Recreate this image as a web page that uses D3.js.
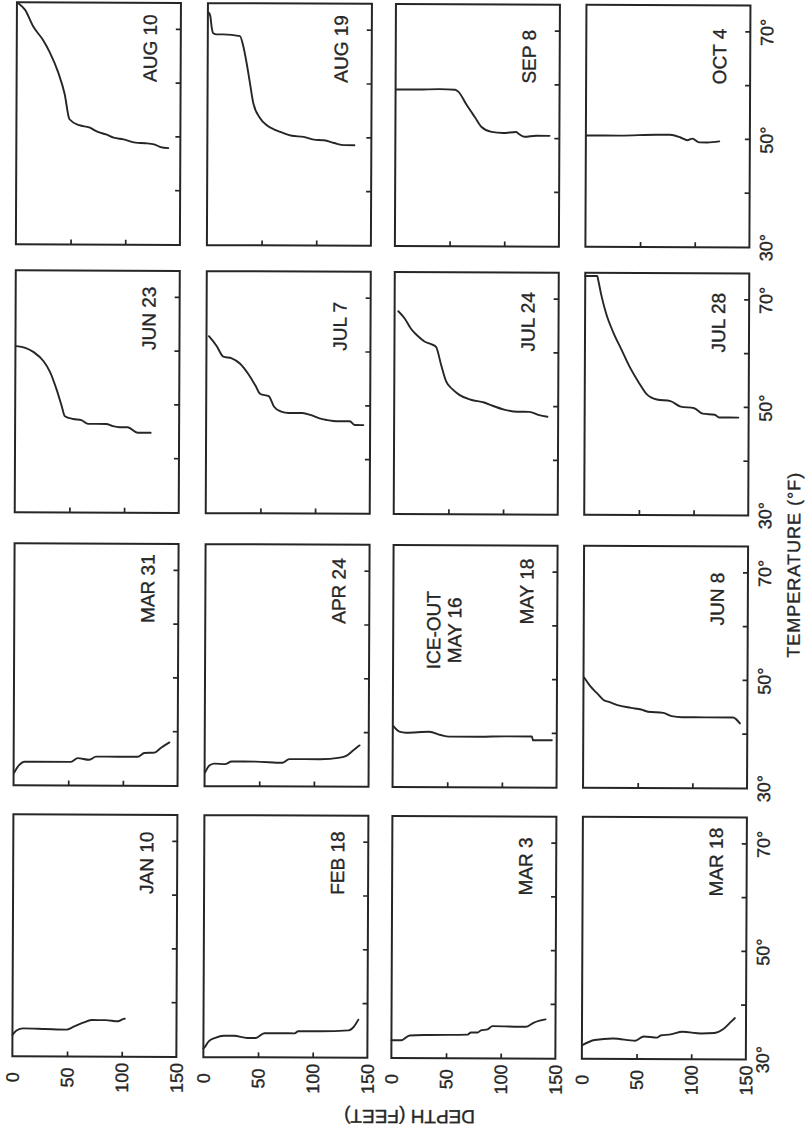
<!DOCTYPE html>
<html>
<head>
<meta charset="utf-8">
<script src="https://cdn.jsdelivr.net/npm/d3@7"></script>
<style>
  html, body { margin: 0; padding: 0; background: #fff; }
  svg { display: block; }
  text { font-family: "Liberation Sans", Arial, sans-serif; fill: #262626; stroke: #262626; stroke-width: 0.35px; }
</style>
</head>
<body>
<svg id="chart" width="807" height="1131"></svg>
<script>
// Lake temperature profiles, one per sampling date: [depth (ft), temperature (°F)]
const jan10 = [[0,34.0],[3.7,34.8],[9.8,35.2],[30,35.1],[49.4,35.0],[55.5,35.5],[64.6,36.3],[72.3,36.8],[85,36.8],[96.6,36.6],[100,36.9],[102.7,37.1]];
const feb18 = [[0,31.6],[1,31.8],[4.6,32.9],[10.8,33.6],[18.6,34.0],[27.8,34.0],[40.2,33.6],[47.9,33.6],[55.7,34.5],[71.1,34.5],[83.5,34.5],[86.6,34.9],[105.1,34.9],[132.9,35.1],[137.6,35.8],[141.6,37.1]];
const mar3  = [[0,33.3],[9.1,33.3],[16.7,34.2],[34.8,34.3],[69.7,34.4],[72.7,34.8],[78.8,34.8],[81.8,35.2],[87.9,35.4],[92.4,36.0],[122.7,35.9],[130.3,36.7],[140.9,37.3]];
const mar18 = [[0,32.5],[11.7,33.5],[28.7,33.8],[48.8,33.4],[56.5,34.2],[68.8,34.0],[71.9,34.4],[81.2,34.6],[92,35.1],[108.9,34.8],[121.3,34.9],[129,35.6],[135.2,36.8],[139.8,37.7]];
const mar31 = [[0.6,32.4],[5.2,33.8],[9.8,34.4],[18.9,34.4],[52.4,34.4],[58.5,35.1],[69.2,34.8],[75.3,35.4],[95.1,35.4],[113.4,35.4],[119.5,36.1],[128.7,36.2],[134.8,37.1],[142.4,38.1]];
const apr24 = [[0.6,32.6],[4.6,33.9],[9.3,34.2],[18.6,34.1],[24.7,34.6],[46.4,34.6],[71.1,34.4],[77.3,35.1],[105.1,35.1],[123.7,35.4],[129.9,35.8],[136,36.8],[141.6,37.7]];
const may18 = [[0.6,41.3],[6,40.3],[12.1,40.1],[33.3,40.3],[43.9,39.7],[51.5,39.4],[78.8,39.4],[103,39.5],[127.3,39.5],[128.2,38.8],[145.5,38.8]];
const jun8  = [[0.6,50.5],[6.2,48.9],[12.4,47.6],[18.7,46.3],[23.3,46.0],[31.1,45.4],[43.6,44.9],[52.9,44.6],[59.1,44.2],[73.1,44.0],[80.9,43.4],[90.2,43.2],[112,43.2],[136.9,43.2],[143.2,42.1]];
const jun23 = [[0.9,60.9],[9,60.6],[16.7,59.8],[25.8,58.1],[31.8,56.1],[37.9,52.8],[42.4,49.9],[45.5,47.9],[53,47.4],[60.6,47.2],[66.7,46.5],[74,46.5],[83.3,46.5],[89.4,46.1],[95.5,45.9],[103,45.9],[112,44.9],[124,44.9]];
const jul7  = [[2.2,62.9],[9.3,61.1],[15.5,59.1],[23.2,58.8],[30.9,57.8],[38.7,55.8],[44.8,53.8],[49.5,52.2],[57.2,51.8],[61.9,49.9],[68,49.0],[75.8,48.7],[88,48.7],[95.9,48.3],[103.6,47.7],[111,47.4],[119,47.2],[131.4,47.2],[136,46.5],[143.8,46.5]];
const jul24 = [[3.4,67.7],[9.1,66.4],[15.2,64.4],[21.3,63.1],[27.4,62.1],[33.5,61.6],[38,61.1],[42.7,57.8],[47.2,54.8],[53.4,53.2],[59.5,52.2],[70.1,51.3],[82.3,50.8],[89.9,50.2],[100.6,49.5],[112.8,49.1],[123.5,49.1],[132.6,48.5],[140.2,48.2]];
const jul28 = [[0,74.4],[11,74.4],[11.5,74.0],[14.6,71],[19.3,67.4],[25.5,64.1],[33.3,60.8],[41.1,57.5],[48.9,54.8],[56.6,52.5],[66,51.5],[78.4,51.2],[87.8,50.2],[100.2,49.9],[108,48.9],[118.9,48.7],[123.5,48.2],[140.6,48.2]];
const aug10 = [[1.5,74.8],[7.5,73.6],[15,70.5],[24,68],[30,65.8],[38,62],[44,58],[48.5,53.3],[57.5,52.2],[66.6,51.8],[74,51],[82,50.5],[89,49.9],[98,49.6],[109,49],[118,48.9],[126,48.7],[132,48.2],[139,48]];
const aug19 = [[1,73.2],[2.2,72.6],[3.5,70.5],[5,69.4],[8,69.2],[14,69.2],[29.4,68.9],[32.5,67],[35.6,63.9],[38.7,60.2],[41.8,56.5],[48,53.7],[54,52.4],[61.9,51.5],[69.6,50.9],[77.3,50.4],[88.1,50.2],[97.4,49.7],[106.7,49.6],[116,49.1],[125,48.7],[134.5,48.7]];
const sep8  = [[1,59.1],[20,59.1],[40,59.2],[54.5,59.1],[57.6,58.7],[65,56.3],[72.7,54],[78.8,52.2],[87.9,51.3],[98.5,51.1],[110.6,51.3],[113,50.9],[118,50.4],[128.8,50.6],[141,50.6]];
const oct4  = [[0.6,50.7],[31,50.7],[65,50.9],[77,50.9],[86.6,50.4],[92.8,49.9],[97.4,50.2],[103.6,49.5],[111,49.5],[122,49.7]];

// Panels run down each column in date order
const dates = ["JAN 10","FEB 18","MAR 3","MAR 18","MAR 31","APR 24","MAY 18","JUN 8",
               "JUN 23","JUL 7","JUL 24","JUL 28","AUG 10","AUG 19","SEP 8","OCT 4"];
const profiles = [jan10,feb18,mar3,mar18,mar31,apr24,may18,jun8,jun23,jul7,jul24,jul28,aug10,aug19,sep8,oct4];
const iceOutNote = ["ICE-OUT","MAY 16"];
const iceOutPanel = "MAY 18";

const tempDomain = [30, 75];
const depthDomain = [0, 150];
const tempTicks = [40, 50, 60, 70];
const tempTickLabels = [30, 50, 70];
const depthTicks = [50, 100];
const depthTickLabels = [0, 50, 100, 150];

// Layout of the figure in its upright frame (1131 wide, 807 tall)
const colLeft = [73, 344, 617, 885];
const rowTop = [14.5, 205.5, 393.5, 584];
const pw = 242, ph = 164;
const ink = "#262626";

const svg = d3.select("#chart");
svg.append("rect").attr("width", 807).attr("height", 1131).attr("fill", "#fff");

// The figure is printed turned a quarter turn counter-clockwise on the page
const fig = svg.append("g")
  .attr("transform", "rotate(0.25,403.5,565.5) translate(0,1131) rotate(-90)");

profiles.forEach((prof, i) => {
  const c = Math.floor(i / 4), r = i % 4;
  const x0 = colLeft[c], y0 = rowTop[r];
  const x = d3.scaleLinear().domain(tempDomain).range([x0, x0 + pw]);
  const y = d3.scaleLinear().domain(depthDomain).range([y0, y0 + ph]);
  const g = fig.append("g");

  // temperature ticks along the bottom, pointing inward
  const ax = g.append("g").attr("transform", `translate(0,${y0 + ph})`)
    .call(d3.axisBottom(x).tickValues(tempTicks).tickSize(-5).tickSizeOuter(0).tickFormat(""));
  ax.select(".domain").remove();
  ax.selectAll("line").attr("stroke", ink).attr("stroke-width", 1.7);

  // depth ticks along the left, pointing inward
  const ay = g.append("g").attr("transform", `translate(${x0},0)`)
    .call(d3.axisLeft(y).tickValues(depthTicks).tickSize(-5).tickSizeOuter(0).tickFormat(""));
  ay.select(".domain").remove();
  ay.selectAll("line").attr("stroke", ink).attr("stroke-width", 1.7);

  g.append("rect")
    .attr("x", x0).attr("y", y0).attr("width", pw).attr("height", ph)
    .attr("fill", "none").attr("stroke", ink).attr("stroke-width", 2);

  const line = d3.line().x(d => x(d[1])).y(d => y(d[0])).curve(d3.curveMonotoneY);
  g.append("path").datum(prof).attr("d", line)
    .attr("fill", "none").attr("stroke", ink).attr("stroke-width", 1.9)
    .attr("stroke-linejoin", "round").attr("stroke-linecap", "round");

  g.append("text")
    .attr("x", x0 + 163).attr("y", y0 + 140)
    .attr("font-size", 19).text(dates[i]);

  if (dates[i] === iceOutPanel) {
    g.append("g").selectAll("text").data(iceOutNote).join("text")
      .attr("x", x0 + pw - 85).attr("y", (d, k) => y0 + 47 + k * 21)
      .attr("text-anchor", "middle").attr("font-size", 19).text(d => d);
  }

  // temperature scale under the bottom row
  if (r === 3) {
    g.append("g").selectAll("text").data(tempTickLabels).join("text")
      .attr("x", d => x(d)).attr("y", y0 + ph + 23)
      .attr("text-anchor", "middle").attr("font-size", 18).text(d => d + "°");
  }
  // depth scale beside the first column
  if (c === 0) {
    g.append("g").selectAll("text").data(depthTickLabels).join("text")
      .attr("x", x0 - 21).attr("y", d => y(d)).attr("dy", "0.36em")
      .attr("text-anchor", "middle").attr("font-size", 18).text(d => d);
  }
});

// axis titles
fig.append("text")
  .attr("transform", "translate(21,412) rotate(-90)")
  .attr("text-anchor", "middle").attr("font-size", 19)
  .text("DEPTH (FEET)");

fig.append("text")
  .attr("x", 568).attr("y", 800)
  .attr("text-anchor", "middle").attr("font-size", 18).attr("letter-spacing", 1)
  .text("TEMPERATURE (°F)");
</script>
</body>
</html>
